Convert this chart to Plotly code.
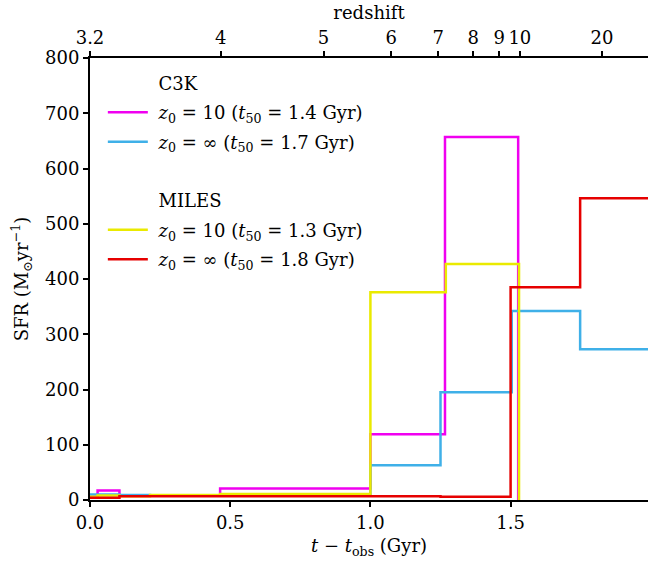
import plotly.graph_objects as go

# Star-formation histories (SFR in Msun/yr) in lookback-time bins (Gyr)
c3k_z10_edges = [0.0, 0.027, 0.105, 0.464, 1.0, 1.266, 1.527]
c3k_z10_sfr = [6, 17, 8, 21, 119, 657]

c3k_zinf_edges = [0.0, 0.105, 0.214, 1.0, 1.25, 1.504, 1.748, 2.0]
c3k_zinf_sfr = [10, 9, 8, 63, 195, 342, 273]

miles_z10_edges = [0.0, 0.027, 0.105, 0.214, 0.464, 1.0, 1.269, 1.53]
miles_z10_sfr = [6, 8, 7, 9, 11, 376, 427]

miles_zinf_edges = [0.0, 0.105, 1.25, 1.5, 1.748, 2.0]
miles_zinf_sfr = [4, 7, 6, 385, 546]

# Redshift ticks on the top axis, placed at their lookback times (Gyr)
z_labels = ["3.2", "4", "5", "6", "7", "8", "9", "10", "20"]
z_lookback = [0.0, 0.466, 0.833, 1.074, 1.242, 1.367, 1.459, 1.533, 1.826]

FONT = "DejaVu Serif"
X_MAX = 1.99
PAD = "\u00a0"  # small gap between legend line and its label


def step_xy(edges, vals, drop_to_zero):
    xs = list(edges)
    ys = list(vals) + [vals[-1]]
    if drop_to_zero:
        xs.append(edges[-1])
        ys.append(0)
    return xs, ys


fig = go.Figure()


def header(name, group):
    fig.add_trace(go.Scatter(
        x=[None], y=[None], mode="lines", name=PAD + name, legendgroup=group,
        line=dict(color="rgba(0,0,0,0)", width=2), hoverinfo="skip"))


def series(edges, vals, name, color, group, drop):
    xs, ys = step_xy(edges, vals, drop)
    fig.add_trace(go.Scatter(
        x=xs, y=ys, mode="lines", line=dict(color=color, width=2.5, shape="hv"),
        name=PAD + name, legendgroup=group))


header("C3K", "g1")
series(c3k_z10_edges, c3k_z10_sfr,
       "<i>z</i><sub>0</sub> = 10 (<i>t</i><sub>50</sub> = 1.4 Gyr)", "#f000f0", "g2", True)
series(c3k_zinf_edges, c3k_zinf_sfr,
       "<i>z</i><sub>0</sub> = ∞ (<i>t</i><sub>50</sub> = 1.7 Gyr)", "#3fb0e8", "g3", False)
header(" ", "g4")
header("MILES", "g5")
series(miles_z10_edges, miles_z10_sfr,
       "<i>z</i><sub>0</sub> = 10 (<i>t</i><sub>50</sub> = 1.3 Gyr)", "#eaea00", "g6", True)
series(miles_zinf_edges, miles_zinf_sfr,
       "<i>z</i><sub>0</sub> = ∞ (<i>t</i><sub>50</sub> = 1.8 Gyr)", "#e60000", "g7", False)

# invisible trace so the redshift axis is drawn
fig.add_trace(go.Scatter(x=[0, X_MAX], y=[None, None], xaxis="x2", mode="lines",
                         showlegend=False, hoverinfo="skip"))

axis_common = dict(showline=True, linecolor="black", linewidth=2, ticks="outside",
                   ticklen=5, tickwidth=1.5, tickcolor="black", showgrid=False,
                   zeroline=False, tickfont=dict(family=FONT, size=18, color="black"))

fig.update_layout(
    width=648, height=564,
    margin=dict(l=90, r=0, t=58, b=64),
    plot_bgcolor="white", paper_bgcolor="white",
    font=dict(family=FONT, size=18, color="black"),
    xaxis=dict(range=[0, X_MAX], tickvals=[0, 0.5, 1.0, 1.5],
               ticktext=["0.0", "0.5", "1.0", "1.5"],
               title=dict(text="<i>t</i> − <i>t</i><sub>obs</sub> (Gyr)",
                          font=dict(family=FONT, size=18), standoff=8),
               **axis_common),
    xaxis2=dict(range=[0, X_MAX], overlaying="x", side="top",
                tickvals=z_lookback, ticktext=z_labels,
                title=dict(text="redshift", font=dict(family=FONT, size=18), standoff=2),
                **axis_common),
    yaxis=dict(range=[0, 800], tickvals=list(range(0, 801, 100)),
               title=dict(text="SFR (M<sub>⊙</sub>yr<sup>−1</sup>)",
                          font=dict(family=FONT, size=18), standoff=12),
               **axis_common),
    legend=dict(x=0.023, y=0.985, xanchor="left", yanchor="top",
                bgcolor="rgba(0,0,0,0)", tracegroupgap=3, itemwidth=40,
                font=dict(family=FONT, size=18)),
    showlegend=True,
)

fig.write_html("out.html")
